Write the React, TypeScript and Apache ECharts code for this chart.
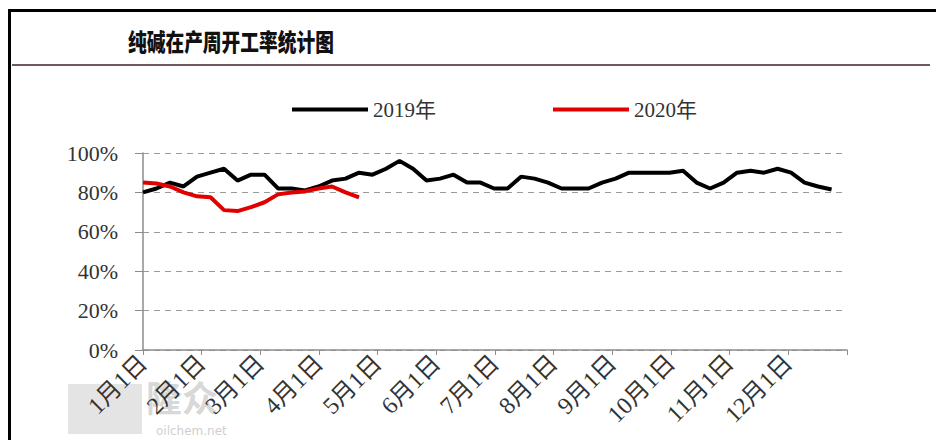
import React, { useEffect, useRef } from "react";
import * as echarts from "echarts";

const TITLE = "纯碱在产周开工率统计图";
const SERIES_NAMES = ["2019年", "2020年"];
const MONTH_LABELS = ["1月1日", "2月1日", "3月1日", "4月1日", "5月1日", "6月1日", "7月1日", "8月1日", "9月1日", "10月1日", "11月1日", "12月1日"];
const Y_TICKS = [0, 20, 40, 60, 80, 100];

// weekly operating rate (%), one value per week starting 1 Jan
const rate2019 = [80, 82, 85, 83, 88, 90, 92, 86, 89, 89, 82, 82, 81, 83, 86, 87, 90, 89, 92, 96, 92, 86, 87, 89, 85, 85, 82, 82, 88, 87, 85, 82, 82, 82, 85, 87, 90, 90, 90, 90, 91, 85, 82, 85, 90, 91, 90, 92, 90, 85, 83, 81.5];
const rate2020 = [85, 84.5, 83, 80, 78, 77.5, 71, 70.5, 72.5, 75, 79, 80, 80.5, 82, 83, 80, 77.5];

const DAYS_PER_MONTH = 365 / 12;
const toPoints = (vals: number[]) => vals.map((v, week) => [(week * 7) / DAYS_PER_MONTH, v]);

const SERIF = "'Liberation Serif', 'Times New Roman', 'Noto Sans CJK SC', serif";

export default function App() {
  const ref = useRef<HTMLDivElement>(null);
  useEffect(() => {
    if (!ref.current) return;
    const chart = echarts.init(ref.current, null, { renderer: "svg" });
    chart.setOption({
      animation: false,
      backgroundColor: "#ffffff",
      legend: [
        {
          data: [SERIES_NAMES[0]],
          left: 292,
          top: 99,
          padding: 0,
          icon: "rect",
          itemWidth: 76,
          itemHeight: 4,
          textStyle: { fontSize: 21, color: "#333", fontFamily: SERIF },
        },
        {
          data: [SERIES_NAMES[1]],
          left: 553,
          top: 99,
          padding: 0,
          icon: "rect",
          itemWidth: 76,
          itemHeight: 4,
          textStyle: { fontSize: 21, color: "#333", fontFamily: SERIF },
        },
      ],
      grid: { left: 143, right: 89, top: 153, bottom: 90 },
      xAxis: {
        type: "value",
        min: 0,
        max: 12,
        interval: 1,
        axisLine: { show: true, lineStyle: { color: "#8c8c8c", width: 1.5 } },
        axisTick: { show: true, length: 5, lineStyle: { color: "#8c8c8c" } },
        splitLine: { show: false },
        axisLabel: {
          rotate: 45,
          margin: 9,
          fontSize: 24,
          color: "#333",
          fontFamily: SERIF,
          formatter: (v: number) => MONTH_LABELS[v] ?? "",
        },
      },
      yAxis: {
        type: "value",
        min: Y_TICKS[0],
        max: Y_TICKS[Y_TICKS.length - 1],
        interval: 20,
        axisLine: { show: true, lineStyle: { color: "#8c8c8c", width: 1.5 } },
        axisTick: { show: true, length: 8, lineStyle: { color: "#8c8c8c" } },
        splitLine: { show: true, lineStyle: { color: "#9a9a9a", type: [6, 5], width: 1.2 } },
        axisLabel: {
          margin: 25,
          fontSize: 22,
          color: "#333",
          fontFamily: SERIF,
          formatter: "{value}%",
        },
      },
      series: [
        {
          name: SERIES_NAMES[0],
          type: "line",
          data: toPoints(rate2019),
          showSymbol: false,
          symbol: "none",
          itemStyle: { color: "#000000" },
          lineStyle: { color: "#000000", width: 4 },
        },
        {
          name: SERIES_NAMES[1],
          type: "line",
          data: toPoints(rate2020),
          showSymbol: false,
          symbol: "none",
          itemStyle: { color: "#e00000" },
          lineStyle: { color: "#e00000", width: 4 },
        },
      ],
      graphic: [
        {
          type: "rect",
          z: -10,
          shape: { x: 68, y: 384, width: 74, height: 50 },
          style: { fill: "#e4e4e4" },
        },
        {
          type: "text",
          z: -10,
          x: 146,
          y: 378,
          style: { text: "隆众", fill: "#d8d8d8", fontSize: 36, fontWeight: "bold", fontFamily: "'Noto Sans CJK SC', sans-serif" },
        },
        {
          type: "text",
          z: -10,
          x: 156,
          y: 425,
          style: { text: "oilchem.net", fill: "#cfcfcf", fontSize: 12, fontFamily: "'DejaVu Sans', sans-serif" },
        },
        {
          type: "text",
          x: 128,
          y: 28,
          scaleX: 0.78,
          style: { text: TITLE, fill: "#111", fontSize: 24, fontWeight: 900, fontFamily: "'Noto Sans CJK SC', sans-serif" },
        },
        {
          type: "rect",
          shape: { x: 9.5, y: 10.5, width: 940, height: 440 },
          style: { fill: "none", stroke: "#000", lineWidth: 3 },
        },
        {
          type: "line",
          shape: { x1: 12, y1: 65, x2: 930, y2: 65 },
          style: { stroke: "#6e5a5a", lineWidth: 2 },
        },
      ],
    });
    return () => chart.dispose();
  }, []);
  return <div ref={ref} style={{ position: "fixed", left: 0, top: 0, width: 936, height: 440 }} />;
}
